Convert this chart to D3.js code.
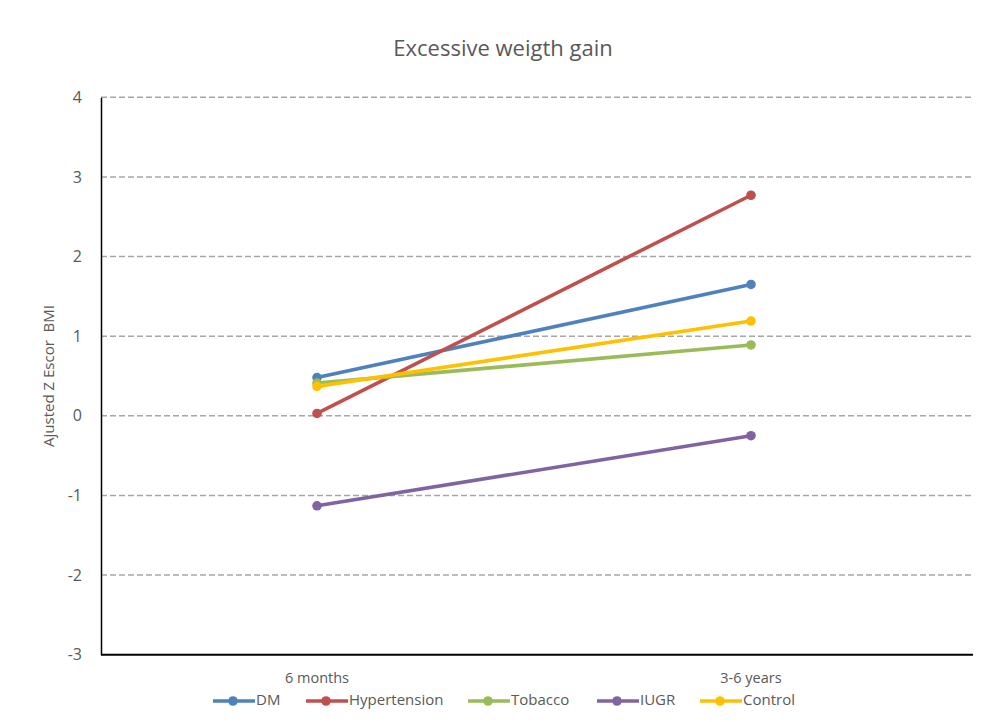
<!DOCTYPE html>
<html>
<head>
<meta charset="utf-8">
<script src="https://cdn.jsdelivr.net/npm/d3@7"></script>
<style>
  html, body { margin: 0; padding: 0; background: #fff; }
  svg { display: block; }
  text { font-family: "Open Sans", "Noto Sans", sans-serif; fill: #595959; }
</style>
</head>
<body>
<svg id="chart" width="983" height="722"></svg>
<script>
// Time points on the x axis
const categories = ["6 months", "3-6 years"];

// Adjusted BMI z-score per group
const seriesNames = ["DM", "Hypertension", "Tobacco", "IUGR", "Control"];
const dmValues = [0.48, 1.65];
const hypertensionValues = [0.03, 2.77];
const tobaccoValues = [0.41, 0.89];
const iugrValues = [-1.13, -0.25];
const controlValues = [0.37, 1.19];
const seriesColors = ["#4F81BD", "#C0504D", "#9BBB59", "#8064A2", "#FFC000"];

const yTicks = [-3, -2, -1, 0, 1, 2, 3, 4];

const series = [dmValues, hypertensionValues, tobaccoValues, iugrValues, controlValues]
  .map((values, i) => ({ name: seriesNames[i], color: seriesColors[i], values }));

const svg = d3.select("#chart");
const plot = { left: 101, right: 973, top: 97.3, bottom: 654.7 };

const x = d3.scaleBand().domain(categories).range([100, 968]);
const y = d3.scaleLinear().domain([-3, 4]).range([plot.bottom, plot.top]);

// Title
svg.append("text")
  .attr("x", 503).attr("y", 50)
  .attr("text-anchor", "middle").attr("dominant-baseline", "middle")
  .style("font-size", "22px")
  .text("Excessive weigth gain");

// Horizontal dashed gridlines
svg.append("g").selectAll("line")
  .data(yTicks.filter(t => t !== -3))
  .join("line")
  .attr("x1", plot.left).attr("x2", plot.right)
  .attr("y1", d => y(d)).attr("y2", d => y(d))
  .attr("stroke", "#A6A6A6").attr("stroke-width", 1.6)
  .attr("stroke-dasharray", "6,3");

// Y axis with tick labels (plain hyphen for negatives)
const yAxis = svg.append("g")
  .attr("transform", `translate(${plot.left},0)`)
  .call(d3.axisLeft(y).tickValues(yTicks).tickSize(0).tickPadding(19).tickFormat(d => String(d)));
yAxis.select(".domain").attr("stroke", "#000").attr("stroke-width", 1.5);
yAxis.selectAll("text").style("font-size", "16px").attr("fill", "#595959");

// X axis baseline and category labels
svg.append("line")
  .attr("x1", plot.left).attr("x2", plot.right)
  .attr("y1", plot.bottom).attr("y2", plot.bottom)
  .attr("stroke", "#000").attr("stroke-width", 2);
svg.append("g").selectAll("text")
  .data(categories)
  .join("text")
  .attr("x", d => x(d) + x.bandwidth() / 2)
  .attr("y", 679)
  .attr("text-anchor", "middle").attr("dominant-baseline", "middle")
  .style("font-size", "14.5px")
  .text(d => d);

// Y axis title
svg.append("text")
  .attr("transform", `translate(50,${(plot.top + plot.bottom) / 2}) rotate(-90)`)
  .attr("text-anchor", "middle").attr("dominant-baseline", "middle")
  .style("font-size", "15px")
  .style("white-space", "pre")
  .text("Ajusted Z Escor  BMI");

// Series lines and markers
const line = d3.line()
  .x((d, i) => x(categories[i]) + x.bandwidth() / 2)
  .y(d => y(d));

const groups = svg.append("g").selectAll("g")
  .data(series)
  .join("g");
groups.append("path")
  .attr("d", d => line(d.values))
  .attr("fill", "none")
  .attr("stroke", d => d.color)
  .attr("stroke-width", 3.6)
  .attr("stroke-linecap", "round");
groups.selectAll("circle")
  .data(d => d.values.map((v, i) => ({ v, i, color: d.color })))
  .join("circle")
  .attr("cx", d => x(categories[d.i]) + x.bandwidth() / 2)
  .attr("cy", d => y(d.v))
  .attr("r", 4.8)
  .attr("fill", d => d.color);

// Legend
const legendX = [213, 306, 468, 597, 700];
const legendY = 701;
const legend = svg.append("g").selectAll("g")
  .data(series)
  .join("g")
  .attr("transform", (d, i) => `translate(${legendX[i]},${legendY})`);
legend.append("line")
  .attr("x1", 0).attr("x2", 42)
  .attr("stroke", d => d.color).attr("stroke-width", 3.6);
legend.append("circle")
  .attr("cx", 20).attr("r", 4.8)
  .attr("fill", d => d.color);
legend.append("text")
  .attr("x", 43).attr("y", 0)
  .attr("dominant-baseline", "middle")
  .style("font-size", "15px")
  .text(d => d.name);
</script>
</body>
</html>
